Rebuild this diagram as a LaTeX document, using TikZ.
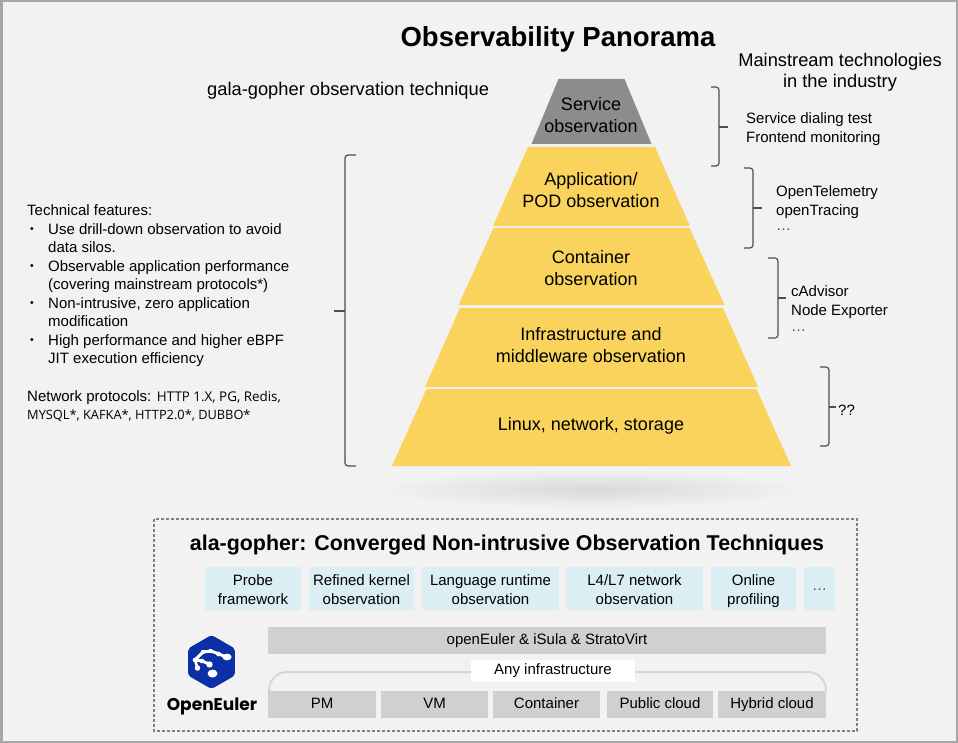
\documentclass[tikz,border=0pt]{standalone}
\usepackage{fontspec}
\setmainfont{Liberation Sans}
\newfontfamily\protofont{Open Sans}
\newfontfamily\logofont{Poppins}
\definecolor{bgc}{HTML}{F2F2F2}
\definecolor{framec}{HTML}{A6A6A6}
\definecolor{pyel}{HTML}{FAD35C}
\definecolor{pgray}{HTML}{8C8C8C}
\definecolor{lblue}{HTML}{DAEEF3}
\definecolor{gbar}{HTML}{D0D0D0}
\definecolor{bracec}{HTML}{4D4D4D}
\definecolor{dashc}{HTML}{808080}
\definecolor{logoblue}{HTML}{0A2FA6}
\definecolor{arcc}{HTML}{D6D6D6}
\definecolor{shadowc}{HTML}{D9D9D9}
\newcommand\bul{\hspace*{3pt}\makebox[18pt][l]{\raisebox{1.2pt}{\scalebox{0.7}{\textbullet}}}}
\newcommand\ind{\hspace*{21pt}}
\begin{document}
\begin{tikzpicture}[x=1pt,y=-1pt,
  lt/.style={inner sep=0, anchor=base west, font=\fontsize{15}{18}\selectfont},
  pyrtxt/.style={inner sep=0, align=center, font=\fontsize{18}{22}\selectfont},
  bracepath/.style={draw=bracec, line width=1.2pt, rounded corners=3pt},
  bbox/.style={fill=lblue, inner sep=0, minimum height=43pt},
  btxt/.style={inner sep=0, align=center, font=\fontsize{15}{19}\selectfont},
  gbox/.style={fill=gbar, inner sep=0, minimum height=27pt, font=\fontsize{15}{19}\selectfont},
  layer/.style={fill=pyel}
]
\useasboundingbox (0,0) rectangle (958,743);
\fill[bgc] (0,0) rectangle (958,743);
\draw[framec, line width=2.5pt] (1.25,1.25) rectangle (956.75,741.75);

% titles
\node[inner sep=0, anchor=base, font=\bfseries\fontsize{27.5}{30}\selectfont] (title) at (558,47) {Observability Panorama};
\node[inner sep=0, anchor=base west, font=\fontsize{18.3}{22}\selectfont] (gala) at (207,96) {gala-gopher observation technique};
\node[inner sep=0, anchor=base, font=\fontsize{18.3}{22}\selectfont] (main1) at (840,66.5) {Mainstream technologies};
\node[inner sep=0, anchor=base, font=\fontsize{18.3}{22}\selectfont] (main2) at (840,88) {in the industry};

% shadow
\shade[inner color=shadowc, outer color=bgc] (592,489) ellipse (215 and 19);

% pyramid
\def\cx{591.5}
\fill[pgray] (\cx-33,79) -- (\cx+33,79) -- (\cx+60,144) -- (\cx-60,144) -- cycle;
\fill[layer] (\cx-63.5,147) -- (\cx+63.5,147) -- (\cx+98.5,226) -- (\cx-98.5,226) -- cycle;
\fill[layer] (\cx-98,228) -- (\cx+98,228) -- (\cx+133,305) -- (\cx-133,305) -- cycle;
\fill[layer] (\cx-131.5,308) -- (\cx+131.5,308) -- (\cx+166.5,387) -- (\cx-166.5,387) -- cycle;
\fill[layer] (\cx-165,389) -- (\cx+165,389) -- (\cx+199.5,466) -- (\cx-199.5,466) -- cycle;

\node[pyrtxt] (svc) at (591,117.1) {\strut Service\\\strut observation};
\node[pyrtxt] (app) at (591,192.6) {\strut Application/\\\strut POD observation};
\node[pyrtxt] (cont) at (591,270.6) {\strut Container\\\strut observation};
\node[pyrtxt] (infra) at (591,347.1) {\strut Infrastructure and\\\strut middleware observation};
\node[pyrtxt] (linux) at (591,426.1) {\strut Linux, network, storage};

% left brace
\draw[bracepath] (356,155) -- (345,155) -- (345,466) -- (356,466);
\draw[bracec, line width=1.2pt] (345,311) -- (334,311);

% right braces
\draw[bracepath] (711,87) -- (719,87) -- (719,166) -- (711,166);
\draw[bracec, line width=1.2pt] (719,127) -- (728,127);
\draw[bracepath] (744,168) -- (753,168) -- (753,248) -- (744,248);
\draw[bracec, line width=1.2pt] (753,208) -- (762,208);
\draw[bracepath] (768,258) -- (778,258) -- (778,338) -- (768,338);
\draw[bracec, line width=1.2pt] (778,298) -- (786,298);
\draw[bracepath] (820,367) -- (829,367) -- (829,446) -- (820,446);
\draw[bracec, line width=1.2pt] (829,407) -- (836,407);

% right texts
\node[lt] (r1a) at (746,123.5) {Service dialing test};
\node[lt] (r1b) at (746,142.5) {Frontend monitoring};
\node[lt] (r2a) at (776,196.5) {OpenTelemetry};
\node[lt] (r2b) at (776,215.5) {openTracing};
\node[lt] (r2c) at (776,231) {\textcolor{black!70}{…}};
\node[lt] (r3a) at (791,296.5) {cAdvisor};
\node[lt] (r3b) at (791,315.5) {Node Exporter};
\node[lt] (r3c) at (791,331) {\textcolor{black!70}{…}};
\node[lt] (r4a) at (838,415.5) {??};

% left texts
\node[inner sep=0, anchor=north west, align=left, font=\fontsize{15}{18.5}\selectfont] (feat) at (27,202.5)
{\strut Technical features:\\
 \strut\bul Use drill-down observation to avoid\\
 \strut\ind data silos.\\
 \strut\bul Observable application performance\\
 \strut\ind (covering mainstream protocols*)\\
 \strut\bul Non-intrusive, zero application\\
 \strut\ind modification\\
 \strut\bul High performance and higher eBPF\\
 \strut\ind JIT execution efficiency};
\node[inner sep=0, anchor=north west, align=left, font=\fontsize{15}{18}\selectfont] (proto) at (27,388.4)
{\strut Network protocols: {\protofont\fontsize{13.4}{18}\selectfont HTTP 1.X, PG, Redis,}\\
 \strut{\protofont\fontsize{12.8}{18}\selectfont MYSQL*, KAFKA*, HTTP2.0*, DUBBO*}};

% bottom dashed box
\draw[dashc, line width=1.3pt, dash pattern=on 3pt off 2pt] (154,519) rectangle (857,731);
\node[inner sep=0, anchor=base, font=\bfseries\fontsize{21.4}{24}\selectfont] (btitle) at (507,550.5) {ala-gopher: Converged Non-intrusive Observation Techniques};

% blue boxes
\node[bbox, minimum width=96pt] (probe) at (253,588.5) {};
\node[btxt] (probeT) at ([yshift=-2.7pt]probe.center) {\strut Probe\\\strut framework};
\node[bbox, minimum width=105pt] (kern) at (361.5,588.5) {};
\node[btxt] (kernT) at ([yshift=-2.7pt]kern.center) {\strut Refined kernel\\\strut observation};
\node[bbox, minimum width=137pt] (lang) at (490.5,588.5) {};
\node[btxt] (langT) at ([yshift=-2.7pt]lang.center) {\strut Language runtime\\\strut observation};
\node[bbox, minimum width=137pt] (net) at (634.5,588.5) {};
\node[btxt] (netT) at ([yshift=-2.7pt]net.center) {\strut L4/L7 network\\\strut observation};
\node[bbox, minimum width=85pt] (prof) at (753.5,588.5) {};
\node[btxt] (profT) at ([yshift=-2.7pt]prof.center) {\strut Online\\\strut profiling};
\node[bbox, minimum width=31pt] (more) at (819.5,588.5) {};
\node[btxt] (moreT) at ([yshift=-1pt]more.center) {\textcolor{black!70}{…}};

% openEuler bar
\node[gbox, minimum width=558pt] (oe) at (547,640.5) {\strut openEuler \& iSula \& StratoVirt};

% infrastructure arc
\draw[arcc, line width=2pt, rounded corners=18pt] (269,691) |- (547,672) -| (826,691);
\node[fill=white, inner sep=0, minimum width=164pt, minimum height=22pt, font=\fontsize{15}{19}\selectfont] (any) at (553,671) {\strut Any infrastructure};

% bottom row
\node[gbox, minimum width=108pt] (pm) at (322,704.5) {\raisebox{-2pt}{\strut PM}};
\node[gbox, minimum width=107pt] (vm) at (434.5,704.5) {\strut VM};
\node[gbox, minimum width=107pt] (ctr) at (546.5,704.5) {\strut Container};
\node[gbox, minimum width=106pt] (pub) at (660,704.5) {\strut Public cloud};
\node[gbox, minimum width=108pt] (hyb) at (772,704.5) {\strut Hybrid cloud};

% logo
\fill[logoblue, rounded corners=3pt] (211.5,635) -- (234.9,648.5) -- (234.9,675.5) -- (211.5,689) -- (188.1,675.5) -- (188.1,648.5) -- cycle;
\draw[white, line width=3pt, line cap=round, line join=round] (203,652) -- (211,651) -- (219,654) -- (226,657);
\draw[white, line width=3pt, line cap=round, line join=round] (203,652) -- (195,660) -- (202,661) -- (209,664);
\draw[white, line width=2.6pt, line cap=round] (195,660) -- (197.5,668);
\fill[white] (227,657) ellipse (4.6 and 3.4);
\fill[white] (218.5,654) circle (2.4);
\fill[white] (210.5,651) circle (2.2);
\fill[white] (203,652) circle (2.2);
\fill[white] (195,660) circle (2.3);
\fill[white] (202,661) circle (2.3);
\fill[white] (209.5,664.5) circle (3.2);
\fill[white] (197.5,668) circle (2.8);
\fill[white] (212.5,673.5) ellipse (5 and 4);
\node[inner sep=0, anchor=base, font=\logofont\bfseries\fontsize{17}{20}\selectfont] (oelogo) at (212,710) {OpenEuler};
\end{tikzpicture}
\end{document}
